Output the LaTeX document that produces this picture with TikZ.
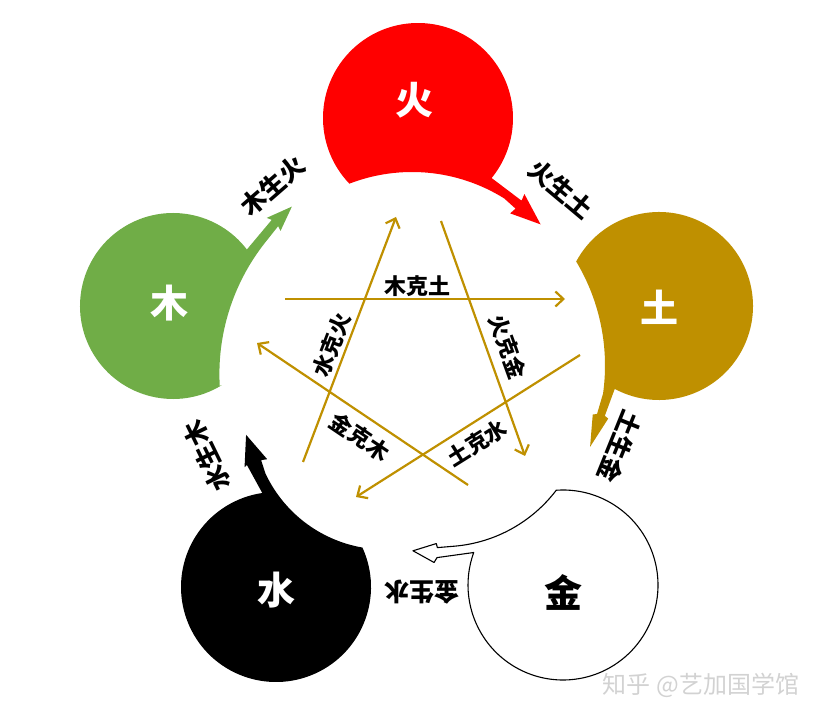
\documentclass[tikz,border=0pt]{standalone}
\usepackage{fontspec}
\newfontfamily\cjk{Noto Sans CJK SC}
\usetikzlibrary{arrows.meta}
\definecolor{fire}{HTML}{FF0000}
\definecolor{earth}{HTML}{BF9000}
\definecolor{wood}{HTML}{70AD47}
\definecolor{gold}{HTML}{BF9000}
\begin{document}
\begin{tikzpicture}[x=1pt,y=1pt,
  elem/.style={font=\cjk\bfseries\fontsize{38}{42}\selectfont, inner sep=0pt},
  cyc/.style={font=\cjk\bfseries\fontsize{25}{28}\selectfont, inner sep=0pt},
  kelab/.style={font=\cjk\bfseries\fontsize{22}{25}\selectfont, inner sep=0pt},
  ke/.style={draw=gold, line width=2.2pt, -{Straight Barb[length=8pt,width=15pt]}},
  mark wm/.style={font=\cjk\fontsize{24}{26}\selectfont, text=gray!35, inner sep=0pt}]
\useasboundingbox (0,0) rectangle (824,720);
% centres
\coordinate (Cf) at (418,602); \coordinate (Of) at (412,374);
\coordinate (Ce) at (659,414); \coordinate (Oe) at (403,354.5);
\coordinate (Cm) at (563,135); \coordinate (Om) at (442.4,316.3);
\coordinate (Cw) at (276,133); \coordinate (Ow) at (385,302.5);
\coordinate (Cd) at (173,414); \coordinate (Od) at (431.4,345.9);
% fire
\fill[fire] ([shift={(223.6:95pt)}]Cf) arc[start angle=223.6, end angle=-39.2, radius=95pt]
  -- ([shift={(53:182pt)}]Of) -- ([shift={(53.5:189pt)}]Of) -- ([shift={(43.4:177pt)}]Of)
  -- ([shift={(53.5:165pt)}]Of) -- ([shift={(53:172pt)}]Of) -- ([shift={(58:174pt)}]Of)
  arc[start angle=58, end angle=111.1, radius=174pt] -- cycle;
% earth
\fill[earth] ([shift={(151.7:94pt)}]Ce) arc[start angle=151.7, end angle=-118.1, radius=94pt]
  -- ([shift={(-14:208pt)}]Oe) -- ([shift={(-14.5:212pt)}]Oe) -- ([shift={(-23.5:204pt)}]Oe)
  -- ([shift={(-14.5:196pt)}]Oe) -- ([shift={(-14:200pt)}]Oe) -- ([shift={(-8:202pt)}]Oe)
  arc[start angle=-8, end angle=31, radius=202pt] -- cycle;
% metal
\filldraw[fill=white, draw=black, line width=1.1pt, line join=round]
  ([shift={(94:95pt)}]Cm) arc[start angle=94, end angle=-200, radius=95pt]
  -- ([shift={(-92:154pt)}]Om) -- ([shift={(-93:159pt)}]Om) -- ([shift={(-101.3:150pt)}]Om)
  -- ([shift={(-92.5:140pt)}]Om) -- ([shift={(-92:144pt)}]Om) -- ([shift={(-85:143pt)}]Om)
  arc[start angle=-85, end angle=-37.2, radius=143pt] -- cycle;
% water
\fill[black] ([shift={(24.5:95pt)}]Cw) arc[start angle=24.5, end angle=-261.7, radius=95pt]
  -- ([shift={(199:146pt)}]Ow) -- ([shift={(199.5:149pt)}]Ow) -- ([shift={(187.1:140pt)}]Ow)
  -- ([shift={(199.5:125pt)}]Ow) -- ([shift={(199:131pt)}]Ow) -- ([shift={(205:132pt)}]Ow)
  arc[start angle=205, end angle=260.1, radius=132pt] -- cycle;
% wood
\fill[wood] ([shift={(-58.3:93pt)}]Cd) arc[start angle=-58.3, end angle=-322.6, radius=93pt]
  -- ([shift={(136:222pt)}]Od) -- ([shift={(136.5:227pt)}]Od) -- ([shift={(129.8:218pt)}]Od)
  -- ([shift={(136.5:208pt)}]Od) -- ([shift={(136:213pt)}]Od) -- ([shift={(142:212pt)}]Od)
  arc[start angle=142, end angle=183.2, radius=212pt] -- cycle;
% element labels
\node[elem, text=white] (huo) at (414,620) {火};
\node[elem, text=white] (tu) at (659,413) {土};
\node[elem, text=black] (jin) at (563,128) {金};
\node[elem, text=white] (shui) at (276,130) {水};
\node[elem, text=white] (mu) at (169,417) {木};
% generating labels
\node[cyc, rotate=41] (l1) at (273,534) {木生火};
\node[cyc, rotate=-40] (l2) at (561,531) {火生土};
\node[cyc, rotate=-112] (l3) at (620,273) {土生金};
\node[cyc, rotate=180] (l4) at (422,128) {金生水};
\node[cyc, rotate=116] (l5) at (207,264) {水生木};
% controlling arrows
\coordinate (k1a) at (285,421); \coordinate (k1b) at (565,421);
\coordinate (k2a) at (303,258); \coordinate (k2b) at (396,503);
\coordinate (k3a) at (441,499); \coordinate (k3b) at (525,264);
\coordinate (k4a) at (580,365); \coordinate (k4b) at (356,223);
\coordinate (k5a) at (468,235); \coordinate (k5b) at (257,377);
\draw[ke] (k1a) -- (k1b);
\draw[ke] (k2a) -- (k2b);
\draw[ke] (k3a) -- (k3b);
\draw[ke] (k4a) -- (k4b);
\draw[ke] (k5a) -- (k5b);
\node[kelab] (t1) at (417,434) {木克土};
\node[kelab, rotate=69] (t2) at (332,375) {水克火};
\node[kelab, rotate=-70] (t3) at (508,373) {火克金};
\node[kelab, rotate=32] (t4) at (477,277) {土克水};
\node[kelab, rotate=-34] (t5) at (360,283) {金克木};
% watermark
\node[mark wm] (wm) at (701,35) {知乎 @艺加国学馆};
\end{tikzpicture}
\end{document}
